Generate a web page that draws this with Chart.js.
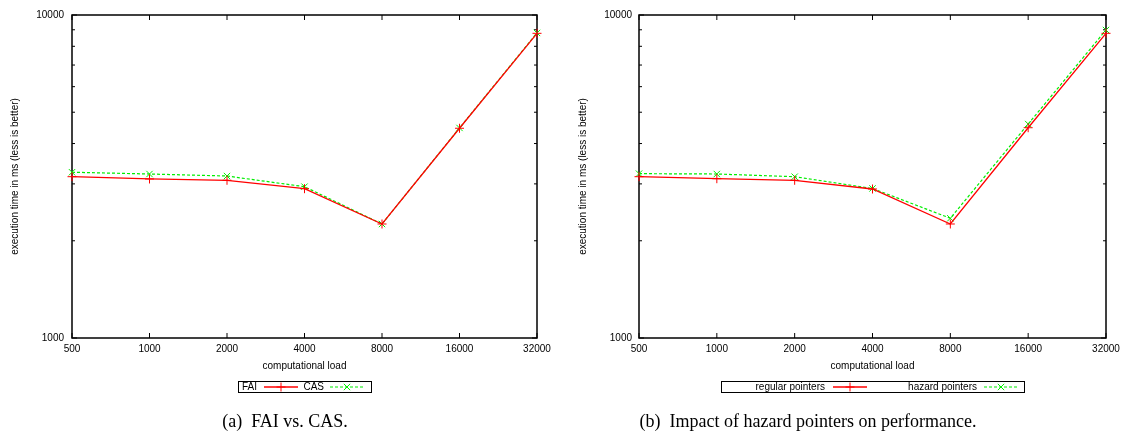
<!DOCTYPE html>
<html>
<head>
<meta charset="utf-8">
<script src="https://cdn.jsdelivr.net/npm/chart.js@4.4.1/dist/chart.umd.min.js"></script>
<style>
    body { margin: 0; background: #fff; width: 1125px; height: 439px; position: relative; overflow: hidden; }
    canvas { position: absolute; top: 0; }
    .caption { position: absolute; font-family: "Liberation Serif", "DejaVu Serif", serif; font-size: 18px; color: #000; white-space: pre; transform: translate(-50%, -50%); }
</style>
</head>
<body>
<canvas id="fai-chart" width="562" height="439" style="left:0"></canvas>
<canvas id="hazard-chart" width="563" height="439" style="left:562px"></canvas>
<div class="caption" style="left:285px; top:421px">(a)  FAI vs. CAS.</div>
<div class="caption" style="left:808px; top:421px">(b)  Impact of hazard pointers on performance.</div>
<script>
// computational load (x axis categories)
const loadLabels = ['500', '1000', '2000', '4000', '8000', '16000', '32000'];

// execution time in ms
const faiTimes = [3158, 3107, 3078, 2899, 2254, 4460, 8776];
const casTimes = [3260, 3219, 3173, 2941, 2254, 4470, 8800];
const regularTimes = [3158, 3113, 3078, 2893, 2254, 4477, 8776];
const hazardTimes = [3227, 3219, 3158, 2904, 2348, 4597, 8986];

// y ticks (minor ones unlabelled) and the ones that get a label
const yTickValues = [1000, 2000, 3000, 4000, 5000, 6000, 7000, 8000, 9000, 10000];
const yTickLabels = [1000, 10000];

const tickFont = { family: 'Liberation Sans', size: 10 };

// gnuplot style box with inward ticks on all four sides
const framePlugin = {
    id: 'frame',
    beforeDatasetsDraw(chart) {
        const { ctx, chartArea: a, scales } = chart;
        ctx.save();
        ctx.strokeStyle = '#000';
        ctx.lineWidth = 1.5;
        ctx.strokeRect(a.left, a.top, a.right - a.left, a.bottom - a.top);
        ctx.lineWidth = 1;
        ctx.beginPath();
        scales.x.ticks.forEach((t, i) => {
            const x = scales.x.getPixelForTick(i);
            ctx.moveTo(x, a.bottom); ctx.lineTo(x, a.bottom - 5);
            ctx.moveTo(x, a.top); ctx.lineTo(x, a.top + 5);
        });
        scales.y.ticks.forEach(t => {
            const y = scales.y.getPixelForValue(t.value);
            const len = yTickLabels.includes(t.value) ? 5 : 3;
            ctx.moveTo(a.left, y); ctx.lineTo(a.left + len, y);
            ctx.moveTo(a.right, y); ctx.lineTo(a.right - len, y);
        });
        ctx.stroke();
        ctx.restore();
    },
    afterDraw(chart) {
        const opts = chart.options.plugins.frame;
        if (!opts || !opts.legend) return;
        const lg = opts.legend;
        const { ctx } = chart;
        ctx.save();
        ctx.strokeStyle = '#000';
        ctx.lineWidth = 1;
        ctx.strokeRect(lg.left + 0.5, lg.top + 0.5, lg.right - lg.left, lg.bottom - lg.top);
        const cy = (lg.top + lg.bottom) / 2 + 0.5;
        ctx.font = '10px "Liberation Sans"';
        ctx.textBaseline = 'middle';
        ctx.textAlign = 'right';
        lg.entries.forEach((e, i) => {
            const ds = chart.data.datasets[i];
            ctx.fillStyle = '#000';
            ctx.fillText(ds.label, e.textRight, cy);
            ctx.strokeStyle = ds.borderColor;
            ctx.lineWidth = ds.borderWidth;
            ctx.setLineDash(ds.borderDash || []);
            ctx.beginPath();
            ctx.moveTo(e.sample, cy);
            ctx.lineTo(e.sample + 34, cy);
            ctx.stroke();
            ctx.setLineDash([]);
            ctx.lineWidth = 1;
            Chart.helpers.drawPoint(ctx, {
                pointStyle: ds.pointStyle, radius: ds.pointRadius, borderWidth: 1, rotation: 0
            }, e.sample + 17, cy);
        });
        ctx.restore();
    }
};

function makeDataset(label, data, color, style, dashed) {
    return {
        label: label,
        data: data,
        borderColor: color,
        backgroundColor: color,
        borderWidth: dashed ? 1.2 : 1.3,
        borderDash: dashed ? [3, 2] : [],
        pointStyle: style,
        pointRadius: 4.5,
        pointBorderWidth: 1,
        pointBorderColor: color,
        tension: 0,
        fill: false,
        clip: false
    };
}

function chartOptions(axisWidth, rightPad, titlePad, labelPad, legend) {
    return {
        responsive: false,
        animation: false,
        devicePixelRatio: 1,
        layout: { padding: { left: 0, right: rightPad, top: 15, bottom: 67 } },
        plugins: {
            legend: { display: false },
            tooltip: { enabled: false },
            frame: { legend: legend }
        },
        scales: {
            x: {
                type: 'category',
                offset: false,
                grid: { display: false, drawTicks: false },
                border: { display: false },
                ticks: { font: tickFont, color: '#000', padding: 5, maxRotation: 0, autoSkip: false },
                title: { display: true, text: 'computational load', font: tickFont, color: '#000', padding: { top: 0, bottom: 0 } },
                afterFit: (s) => { s.height = 34; }
            },
            y: {
                type: 'logarithmic',
                min: 1000,
                max: 10000,
                grid: { display: false, drawTicks: false },
                border: { display: false },
                afterBuildTicks: (s) => { s.ticks = yTickValues.map(v => ({ value: v })); },
                ticks: {
                    font: tickFont, color: '#000', padding: labelPad, autoSkip: false,
                    callback: (v) => yTickLabels.includes(v) ? String(v) : ''
                },
                title: { display: true, text: 'execution time in ms (less is better)', font: tickFont, color: '#000', padding: { top: titlePad, bottom: 0 } },
                afterFit: (s) => { s.width = axisWidth; }
            }
        }
    };
}

function renderCharts() {
    new Chart(document.getElementById('fai-chart'), {
        type: 'line',
        data: {
            labels: loadLabels,
            datasets: [
                makeDataset('FAI', faiTimes, '#ff0000', 'cross', false),
                makeDataset('CAS', casTimes, '#00ee00', 'crossRot', true)
            ]
        },
        options: chartOptions(72, 25, 9, 8, {
            left: 238, right: 371, top: 381, bottom: 392,
            entries: [{ textRight: 257, sample: 264 }, { textRight: 324, sample: 330 }]
        }),
        plugins: [framePlugin]
    });

    new Chart(document.getElementById('hazard-chart'), {
        type: 'line',
        data: {
            labels: loadLabels,
            datasets: [
                makeDataset('regular pointers', regularTimes, '#ff0000', 'cross', false),
                makeDataset('hazard pointers', hazardTimes, '#00ee00', 'crossRot', true)
            ]
        },
        options: chartOptions(77, 19, 15, 7, {
            left: 159, right: 462, top: 381, bottom: 392,
            entries: [{ textRight: 263, sample: 271 }, { textRight: 415, sample: 422 }]
        }),
        plugins: [framePlugin]
    });
}

document.addEventListener('DOMContentLoaded', renderCharts);
</script>
</body>
</html>
